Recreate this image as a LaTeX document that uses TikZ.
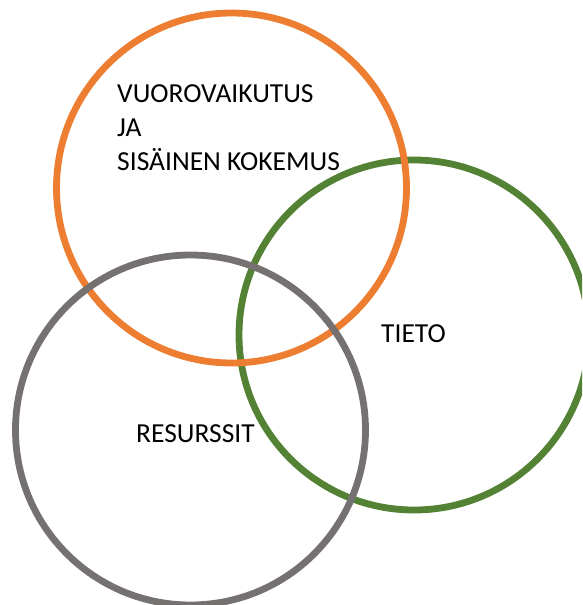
\documentclass[tikz,border=0pt]{standalone}
\usepackage{fontspec}
\setmainfont{Carlito}
\definecolor{vorange}{RGB}{237,125,49}
\definecolor{vgreen}{RGB}{84,130,53}
\definecolor{vgray}{RGB}{118,113,113}
\begin{document}
\begin{tikzpicture}[x=1pt,y=1pt,
  ring/.style={line width=6.8pt,draw=#1,circle,minimum size=350pt,inner sep=0pt},
  lbl/.style={inner sep=0pt,anchor=base west,font=\fontsize{27.5pt}{34pt}\selectfont,align=left}]
\useasboundingbox (0,0) rectangle (582,-605);
\clip (0,0) rectangle (582,-605);
\node[ring=vgreen] (tieto) at (414,-335) {};
\node[ring=vorange] (vuoro) at (231.5,-188) {};
\node[ring=vgray] (resurssit) at (190.5,-430) {};
\node[lbl] (t1) at (117,-170) {VUOROVAIKUTUS\\JA\\SISÄINEN KOKEMUS};
\node[lbl] (t2) at (381,-342) {TIETO};
\node[lbl] (t3) at (136,-442) {RESURSSIT};
\end{tikzpicture}
\end{document}
